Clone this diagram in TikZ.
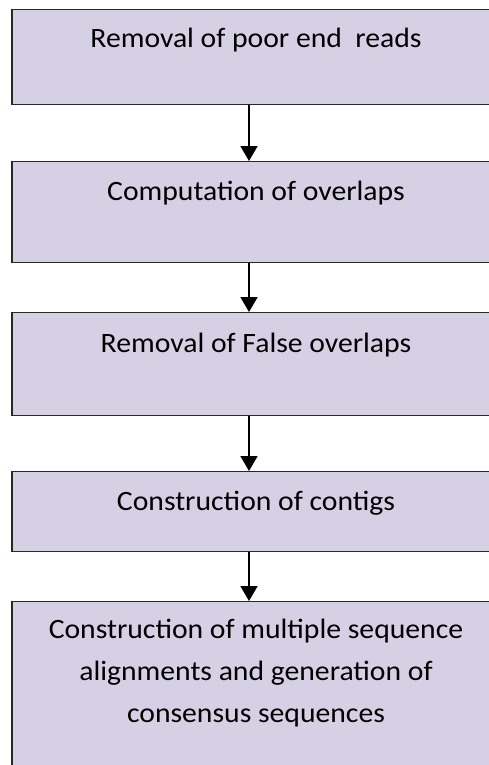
\documentclass[tikz,border=0pt]{standalone}
\usepackage{fontspec}
\setmainfont[FakeStretch=1.06]{Carlito}
\usetikzlibrary{arrows.meta}
\definecolor{boxfill}{RGB}{214,208,228}
\definecolor{boxline}{RGB}{40,40,40}
\tikzset{
  stepbox/.style={draw=boxline, line width=1.3pt, fill=boxfill, rectangle,
    minimum width=488pt, inner xsep=0pt, inner ysep=0pt, anchor=north,
    align=center, font=\fontsize{28}{42}\selectfont},
  flow/.style={line width=1.8pt, -{Triangle[width=17pt,length=15pt]}}
}
\begin{document}
\begin{tikzpicture}[x=1pt,y=-1pt]
\clip (0,0) rectangle (489,765);
\fill[white] (0,0) rectangle (489,765);
\node[stepbox, text height=38pt, text depth=57pt] (b1) at (256,9) {Removal of poor end\ \ reads};
\node[stepbox, text height=39pt, text depth=62pt] (b2) at (256,161) {Computation of overlaps};
\node[stepbox, text height=40pt, text depth=63pt] (b3) at (256,312) {Removal of False overlaps};
\node[stepbox, text height=39pt, text depth=41pt] (b4) at (256,471) {Construction of contigs};
\node[stepbox, text height=121pt, text depth=80pt] (b5) at (256,601) {Construction of multiple sequence\\alignments and generation of\\consensus sequences};
\draw[flow] ([xshift=-7pt]b1.south) -- ([xshift=-7pt]b2.north);
\draw[flow] ([xshift=-7pt]b2.south) -- ([xshift=-7pt]b3.north);
\draw[flow] ([xshift=-7pt]b3.south) -- ([xshift=-7pt]b4.north);
\draw[flow] ([xshift=-7pt]b4.south) -- ([xshift=-7pt]b5.north);
\end{tikzpicture}
\end{document}
